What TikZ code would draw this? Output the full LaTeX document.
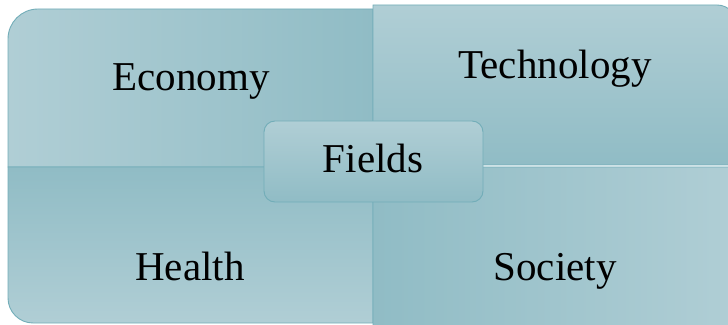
\documentclass[tikz,border=0pt]{standalone}
\usepackage{fontspec}
\setmainfont{Liberation Serif}
\definecolor{qlight}{HTML}{B0CED5}
\definecolor{qdark}{HTML}{90BCC5}
\definecolor{qedge}{HTML}{72ADB8}
\tikzset{
  quad/.style={draw=qedge, line width=0.9pt},
  lbl/.style={anchor=base, inner sep=0pt, font=\fontsize{41}{44}\selectfont, text=black},
  center/.style={draw=qedge, line width=0.9pt, rounded corners=11pt, top color=qlight, bottom color=qdark,
    minimum width=219pt, minimum height=81pt, inner sep=0pt}
}
\begin{document}
\begin{tikzpicture}[x=1pt,y=1pt]
\useasboundingbox (0,0) rectangle (728,324);
\clip (0,0) rectangle (728,324);
% Economy (top-left)
\shade[quad, left color=qlight, right color=qdark] (8,157) -- (8,285) arc[start angle=180,end angle=90,radius=30] -- (373,315) -- (373,157) -- cycle;
% Technology (top-right)
\shade[quad, top color=qlight, bottom color=qdark] (373,159) -- (373,319) -- (717,319) arc[start angle=90,end angle=0,radius=20] -- (737,159) -- cycle;
% Health (bottom-left)
\shade[quad, top color=qdark, bottom color=qlight] (8,157) -- (8,26) arc[start angle=180,end angle=270,radius=25] -- (373,1) -- (373,157) -- cycle;
% Society (bottom-right)
\shade[quad, left color=qdark, right color=qlight] (373,157) -- (373,-5) -- (717,-5) arc[start angle=270,end angle=360,radius=20] -- (737,157) -- cycle;
\node[lbl] (economy) at (191,233) {Economy};
\node[lbl] (technology) at (555,245) {Technology};
\node[lbl] (health) at (190,44) {Health};
\node[lbl] (society) at (555,44) {Society};
\node[center] (fields) at (373.5,162.5) {};
\node[lbl] (fieldstext) at (373,151) {Fields};
\end{tikzpicture}
\end{document}
